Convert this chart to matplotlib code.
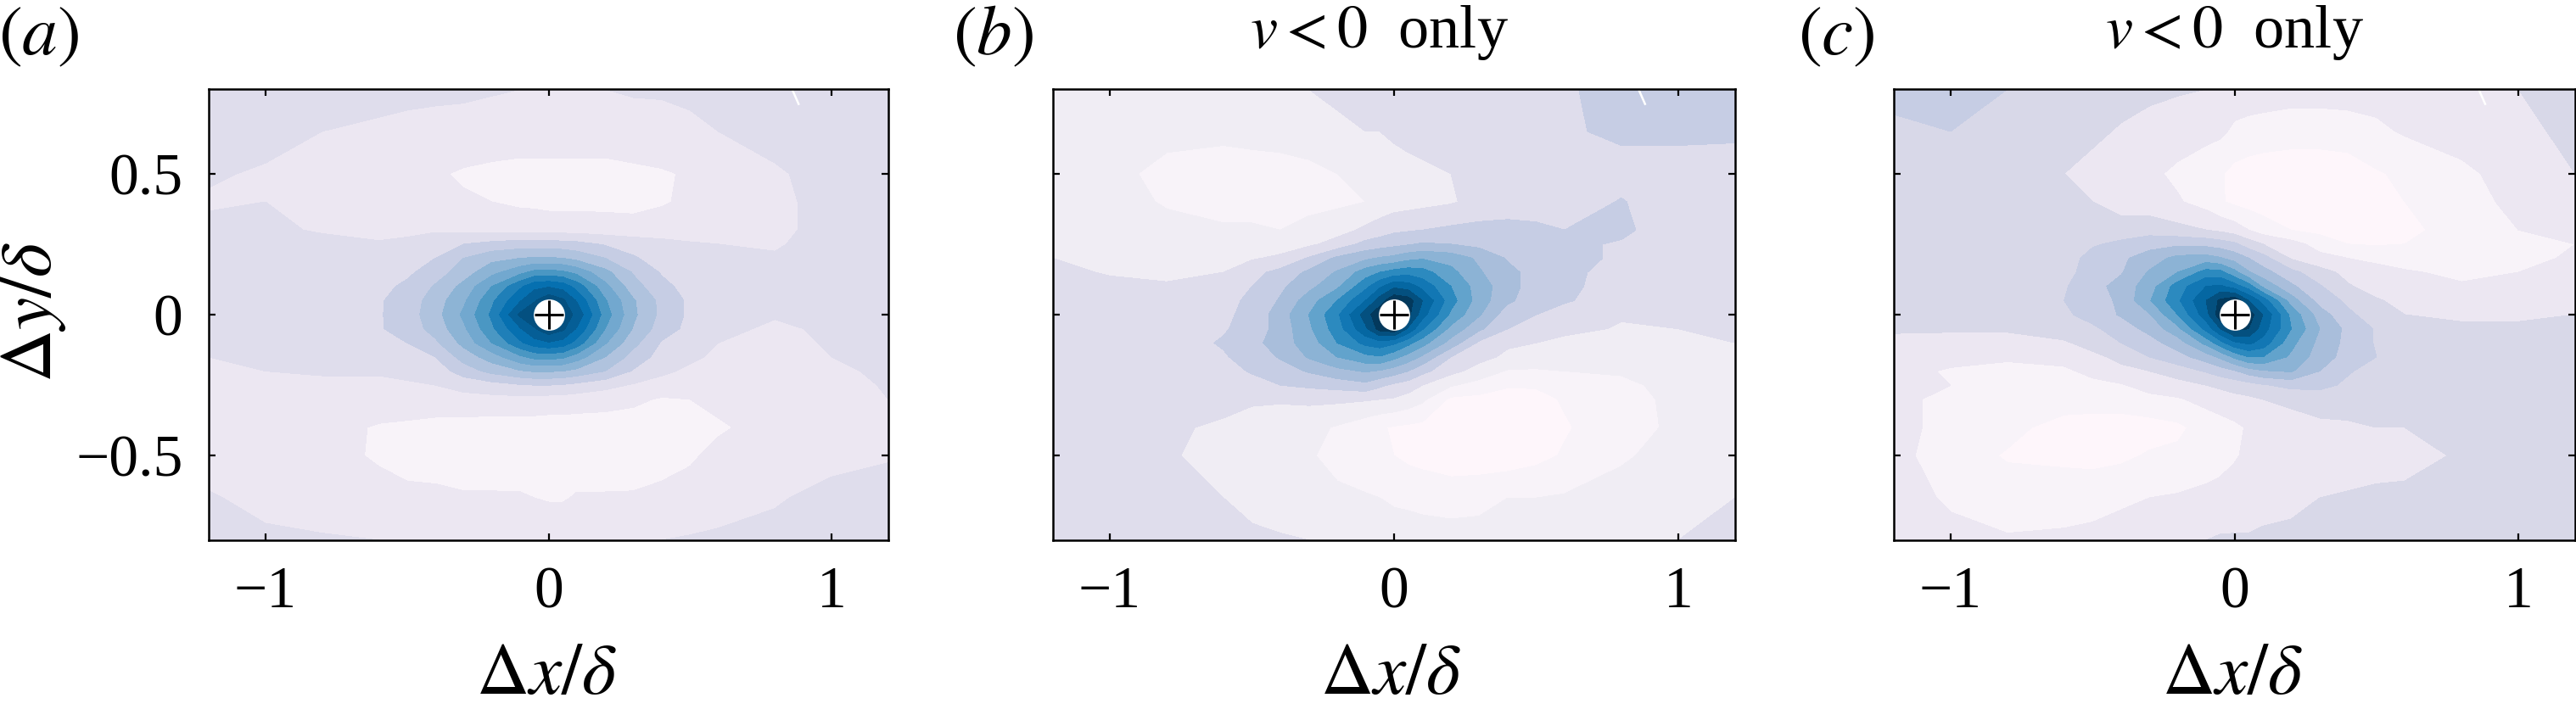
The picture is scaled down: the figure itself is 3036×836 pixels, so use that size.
import numpy as np
import matplotlib
matplotlib.use('Agg')
import matplotlib.pyplot as plt

plt.rcParams['font.family'] = ['Liberation Serif', 'DejaVu Sans']
plt.rcParams['mathtext.fontset'] = 'stix'

W = 3036
H = 836

# grid nodes (denser round the peak)
x_nodes = [-1.2, -1, -.8, -.6, -.5, -.4, -.3, -.2, -.1, -.05, 0, .05, .1, .2, .3, .4, .5, .6, .8, 1, 1.2]
y_nodes = [.8, .65, .5, .4, .3, .25, .2, .15, .1, .05, 0, -.05, -.1, -.15, -.2, -.25, -.3, -.4, -.5, -.65, -.8]

levels = [-1, -.2, -.1, 0, .1, .2, .3, .4, .5, .6, .7, .8, .9, 1, 3]

colors_a = ['#fdf5fa', '#f8f3f9', '#ece7f2', '#dfddec', '#c6cde4', '#b0c3de', '#8db4d5', '#72a8cf', '#4a97c3', '#1f7fb8', '#0670b0', '#055e96', '#045080', '#ffffff']
colors_b = ['#fef6fb', '#f8f3f9', '#f0edf4', '#dfddec', '#c6cde4', '#a9bedb', '#8cb3d5', '#62a3cc', '#2c8abf', '#1277b4', '#0567a2', '#04507f', '#03395c', '#ffffff']
colors_c = ['#fef6fb', '#f8f3f9', '#ece7f2', '#d8d8e8', '#c6cde4', '#a9bedb', '#8cb3d5', '#62a3cc', '#2c8abf', '#1277b4', '#0567a2', '#04507f', '#03395c', '#ffffff']

z_a = [
    [.06, .06, .05, .04, .03, .02, .02, .01, 0, 0, 0, 0, 0, 0, .01, .01, .02, .03, .05, .06, .06],
    [.05, .03, 0, -.02, -.03, -.03, -.04, -.05, -.05, -.05, -.05, -.05, -.05, -.05, -.04, -.03, -.02, 0, .03, .05, .05],
    [.01, -.01, -.04, -.06, -.07, -.09, -.11, -.12, -.13, -.13, -.13, -.13, -.13, -.13, -.12, -.11, -.09, -.07, -.01, .03, .04],
    [-.01, 0, -.04, -.06, -.07, -.08, -.09, -.1, -.12, -.12, -.13, -.13, -.13, -.13, -.13, -.11, -.08, -.06, -.02, .03, .04],
    [.02, .02, -.01, -.03, -.02, -.01, -.02, -.03, -.03, -.04, -.04, -.04, -.04, -.05, -.06, -.05, -.05, -.04, -.02, .03, .04],
    [.03, .04, .03, .01, .02, .05, .1, .13, .15, .15, .15, .14, .13, .09, .06, .03, .01, 0, -.01, .04, .05],
    [.04, .04, .04, .03, .06, .1, .2, .27, .3, .31, .31, .3, .27, .2, .11, .06, .03, .02, .01, .04, .05],
    [.05, .05, .05, .05, .08, .15, .25, .37, .47, .53, .54, .52, .47, .33, .19, .09, .05, .04, .03, .04, .05],
    [.05, .05, .05, .07, .12, .21, .33, .5, .68, .77, .79, .76, .66, .43, .24, .13, .06, .04, .03, .04, .05],
    [.05, .05, .06, .09, .14, .25, .38, .58, .79, .89, .98, .92, .79, .51, .31, .17, .08, .05, .04, .04, .05],
    [.05, .05, .06, .09, .15, .26, .42, .62, .92, .98, 1.35, .97, .87, .55, .32, .17, .08, .05, .01, .03, .04],
    [.05, .05, .05, .09, .14, .24, .38, .58, .79, .89, .98, .92, .79, .5, .29, .15, .07, .03, -.02, .02, .04],
    [.02, .03, .04, .05, .1, .18, .33, .5, .68, .76, .79, .76, .66, .41, .23, .09, .05, 0, -.03, .01, .03],
    [0, .02, .03, .03, .06, .1, .24, .35, .48, .53, .54, .52, .45, .3, .16, .06, .02, -.02, -.05, 0, .02],
    [-.02, 0, .01, .01, .02, .04, .15, .23, .29, .31, .31, .3, .27, .2, .09, .02, -.02, -.05, -.07, -.02, .02],
    [-.03, -.02, -.02, -.02, -.01, 0, .03, .06, .09, .1, .1, .09, .07, .03, -.01, -.04, -.06, -.07, -.08, -.04, .01],
    [-.04, -.04, -.04, -.04, -.04, -.03, -.03, -.03, -.03, -.03, -.04, -.04, -.05, -.06, -.08, -.11, -.1, -.08, -.07, -.05, 0],
    [-.05, -.05, -.06, -.11, -.12, -.14, -.14, -.15, -.15, -.15, -.15, -.15, -.15, -.15, -.15, -.14, -.13, -.11, -.07, -.05, -.02],
    [-.05, -.06, -.07, -.11, -.13, -.14, -.15, -.15, -.16, -.16, -.16, -.16, -.16, -.16, -.15, -.13, -.11, -.08, -.05, -.03, -.01],
    [.01, -.03, -.05, -.07, -.08, -.08, -.09, -.09, -.09, -.1, -.11, -.11, -.09, -.09, -.09, -.08, -.07, -.05, -.01, .03, .05],
    [.05, .02, .01, 0, -.01, -.01, -.01, -.01, -.01, -.01, -.01, -.01, -.01, -.01, -.01, 0, .01, .02, .03, .05, .06],
]

z_b = [
    [-.03, -.04, -.04, -.03, -.03, -.01, 0, .02, .03, .04, .05, .05, .06, .07, .07, .08, .08, .09, .13, .13, .12],
    [-.03, -.05, -.08, -.08, -.07, -.06, -.04, -.02, 0, 0, .02, .03, .04, .05, .06, .07, .08, .09, .115, .12, .115],
    [-.04, -.08, -.12, -.14, -.14, -.14, -.13, -.1, -.07, -.06, -.05, -.03, -.02, 0, .02, .04, .05, .06, .07, .06, .06],
    [-.03, -.06, -.11, -.13, -.13, -.13, -.12, -.12, -.1, -.07, -.05, -.04, -.03, -.01, .03, .05, .05, .06, .105, .05, .04],
    [-.02, -.06, -.07, -.09, -.09, -.1, -.08, -.04, .02, .05, .08, .09, .1, .12, .13, .13, .12, .1, .12, .04, .03],
    [0, -.05, -.06, -.06, -.05, -.05, -.02, .04, .13, .15, .17, .19, .21, .2, .17, .14, .13, .12, .09, .03, .02],
    [0, -.03, -.04, -.03, -.01, .02, .11, .22, .28, .31, .33, .37, .39, .36, .28, .19, .15, .12, .09, .02, .01],
    [.03, -.01, -.02, 0, .07, .13, .22, .31, .45, .5, .54, .56, .54, .43, .31, .23, .16, .12, .07, .03, .02],
    [.04, .03, .01, .05, .1, .18, .27, .38, .57, .68, .78, .75, .67, .5, .35, .24, .15, .12, .06, .04, .03],
    [.04, .04, .04, .07, .12, .21, .35, .5, .7, .85, .98, .95, .8, .54, .35, .22, .14, .11, .05, .04, .04],
    [.05, .05, .05, .08, .13, .25, .4, .58, .85, .98, 1.35, .93, .74, .48, .31, .14, .1, .06, .01, .03, .04],
    [.05, .05, .05, .09, .14, .24, .38, .55, .78, .94, .98, .78, .61, .37, .22, .1, .07, .03, -.01, 0, .02],
    [.04, .04, .05, .11, .16, .26, .34, .5, .63, .66, .62, .53, .44, .26, .08, .015, 0, -.03, -.04, -.01, 0],
    [.03, .03, .05, .09, .14, .21, .31, .4, .47, .49, .43, .36, .28, .1, .03, -.02, -.05, -.06, -.06, -.03, -.01],
    [.02, .02, .03, .06, .11, .15, .21, .27, .31, .29, .25, .2, .13, .03, -.04, -.11, -.11, -.1, -.09, -.05, -.03],
    [.01, .02, .02, .04, .06, .1, .12, .14, .17, .12, .08, .05, 0, -.09, -.14, -.19, -.19, -.14, -.12, -.07, -.05],
    [.02, .02, .02, .02, .01, .01, .02, .02, .01, 0, -.01, -.04, -.08, -.22, -.23, -.24, -.23, -.19, -.13, -.08, -.05],
    [.02, .02, .01, -.01, -.03, -.05, -.07, -.11, -.16, -.19, -.21, -.22, -.23, -.25, -.26, -.26, -.24, -.21, -.14, -.08, -.06],
    [.03, .02, .01, -.03, -.05, -.06, -.09, -.13, -.17, -.19, -.2, -.22, -.23, -.25, -.26, -.26, -.23, -.19, -.11, -.07, -.05],
    [.03, .03, .02, 0, -.03, -.05, -.06, -.08, -.09, -.1, -.12, -.13, -.14, -.15, -.13, -.1, -.1, -.09, -.07, -.03, 0],
    [.03, .03, .03, .03, .02, .01, 0, -.01, -.02, -.03, -.03, -.03, -.04, -.05, -.06, -.06, -.05, -.05, -.03, 0, .03],
]

z_c = [
    [.13, .14, .1, .07, .06, .04, .02, .01, 0, 0, -.04, -.05, -.05, -.06, -.06, -.06, -.06, -.05, -.03, 0, .06],
    [.08, .1, .07, .04, .02, -.01, -.03, -.05, -.07, -.08, -.12, -.13, -.14, -.15, -.15, -.14, -.12, -.09, -.06, -.03, .03],
    [.05, .06, .04, 0, -.03, -.05, -.08, -.12, -.16, -.19, -.23, -.25, -.26, -.27, -.27, -.26, -.21, -.18, -.12, -.06, 0],
    [.05, .05, .04, .02, 0, -.05, -.06, -.09, -.14, -.19, -.22, -.24, -.25, -.26, -.27, -.27, -.25, -.2, -.13, -.08, -.06],
    [.05, .05, .05, .05, .06, .05, .06, .03, 0, -.02, -.05, -.1, -.15, -.2, -.23, -.24, -.24, -.23, -.15, -.1, -.08],
    [.05, .05, .04, .06, .09, .12, .16, .18, .17, .15, .12, .05, 0, -.06, -.14, -.2, -.21, -.2, -.16, -.12, -.1],
    [.04, .04, .04, .06, .13, .18, .25, .33, .34, .31, .26, .2, .14, -.01, -.07, -.1, -.12, -.14, -.15, -.12, -.09],
    [.03, .04, .04, .07, .14, .19, .31, .4, .54, .53, .43, .31, .24, .13, .04, -.03, -.07, -.09, -.12, -.1, -.07],
    [.03, .04, .04, .09, .16, .24, .35, .55, .7, .72, .65, .55, .38, .22, .11, .01, -.04, -.07, -.09, -.07, -.04],
    [.03, .03, .04, .1, .15, .22, .39, .58, .8, .92, .98, .8, .66, .35, .16, .08, .01, -.03, -.04, -.03, -.01],
    [.02, .03, .03, .08, .14, .21, .29, .5, .76, .97, 1.35, .96, .8, .47, .25, .12, .05, 0, -.01, -.01, 0],
    [.01, .01, .01, .04, .08, .15, .23, .37, .63, .8, .93, .9, .75, .5, .3, .17, .09, .03, .01, .01, .02],
    [-.02, -.03, -.03, -.01, .03, .1, .16, .25, .43, .56, .68, .72, .66, .43, .27, .17, .09, .05, .03, .02, .03],
    [-.05, -.07, -.09, -.06, -.02, .02, .1, .16, .25, .32, .42, .5, .5, .38, .25, .16, .1, .06, .03, .02, .03],
    [-.07, -.11, -.12, -.12, -.07, -.02, 0, .05, .11, .15, .19, .25, .29, .31, .2, .11, .06, .05, .03, .02, .03],
    [-.08, -.1, -.14, -.14, -.13, -.11, -.06, -.04, 0, .02, .04, .06, .09, .13, .13, .08, .05, .04, .03, .03, .03],
    [-.08, -.12, -.15, -.15, -.15, -.15, -.13, -.11, -.07, -.05, -.03, -.02, 0, .02, .04, .03, .02, .02, .03, .03, .03],
    [-.07, -.13, -.17, -.24, -.25, -.25, -.24, -.22, -.16, -.14, -.12, -.09, -.07, -.04, -.02, -.01, 0, 0, .02, .03, .03],
    [-.07, -.15, -.21, -.22, -.23, -.22, -.19, -.18, -.16, -.14, -.11, -.08, -.06, -.05, -.05, -.05, -.04, -.03, .01, .03, .03],
    [-.04, -.12, -.15, -.15, -.14, -.12, -.1, -.09, -.07, -.06, -.05, -.05, -.04, -.02, 0, .01, .02, .02, .03, .04, .04],
    [0, -.06, -.09, -.08, -.07, -.05, -.04, -.02, 0, .01, .01, .01, .02, .02, .03, .03, .03, .03, .03, .04, .04],
]

xticks = [-1, 0, 1]
yticks = [-.5, 0, .5]
xtick_labels = ['\u22121', '0', '1']
ytick_labels = ['\u22120.5', '0', '0.5']
xlim = [-1.2, 1.2]
ylim = [-.8, .8]
probe_x = [0]
probe_y = [0]
# small white stroke near the top right of each panel
stroke_x = [.862, .883]
stroke_y = [.795, .747]

# axes edges in pixels
panels = [(246, 1047, z_a, colors_a), (1241, 2045, z_b, colors_b), (2232, 3035, z_c, colors_c)]
top = 105
bottom = 637

fig = plt.figure(figsize=(W/100, H/100), dpi=100)
X, Y = np.meshgrid(x_nodes, y_nodes)

for i, (left, right, z, cols) in enumerate(panels):
    ax = fig.add_axes([left/W, 1 - bottom/H, (right - left)/W, (bottom - top)/H])
    ax.contourf(X, Y, np.array(z), levels=levels, colors=cols)
    ax.plot(stroke_x, stroke_y, color='white', lw=1.8)
    ax.plot(probe_x, probe_y, 'o', ms=26.5, mfc='white', mec='none')
    ax.plot(probe_x, probe_y, '+', ms=25, mew=2.2, color='black')
    ax.set_xlim(xlim)
    ax.set_ylim(ylim)
    ax.set_xticks(xticks)
    ax.set_yticks(yticks)
    ax.set_xticklabels(xtick_labels, fontsize=50)
    if i == 0:
        ax.set_yticklabels(ytick_labels, fontsize=50)
    else:
        ax.set_yticklabels([])
    ax.tick_params(direction='in', length=6, width=1.6, top=True, right=True)
    ax.tick_params(axis='x', pad=22)
    ax.tick_params(axis='y', pad=22)
    for s in ax.spines.values():
        s.set_linewidth(1.8)


def put(x, y, s, size=45, **kw):
    fig.text(x/W, 1 - y/H, s, fontsize=size, ha='center', va='baseline', **kw)


put(46, 64, r'$(a)$', 60)
put(1171, 64, r'$(b)$', 60)
put(2164, 64, r'$(c)$', 60)
put(1625, 56, r'$v<0$  only', 52)
put(2633, 56, r'$v<0$  only', 52)
put(644, 818, r'$\Delta x/\delta$', 62)
put(1639, 818, r'$\Delta x/\delta$', 62)
put(2631, 818, r'$\Delta x/\delta$', 62)
put(60, 368, r'$\Delta y/\delta$', 62, rotation=90, rotation_mode='anchor')

fig.savefig('out.png', dpi=100)
